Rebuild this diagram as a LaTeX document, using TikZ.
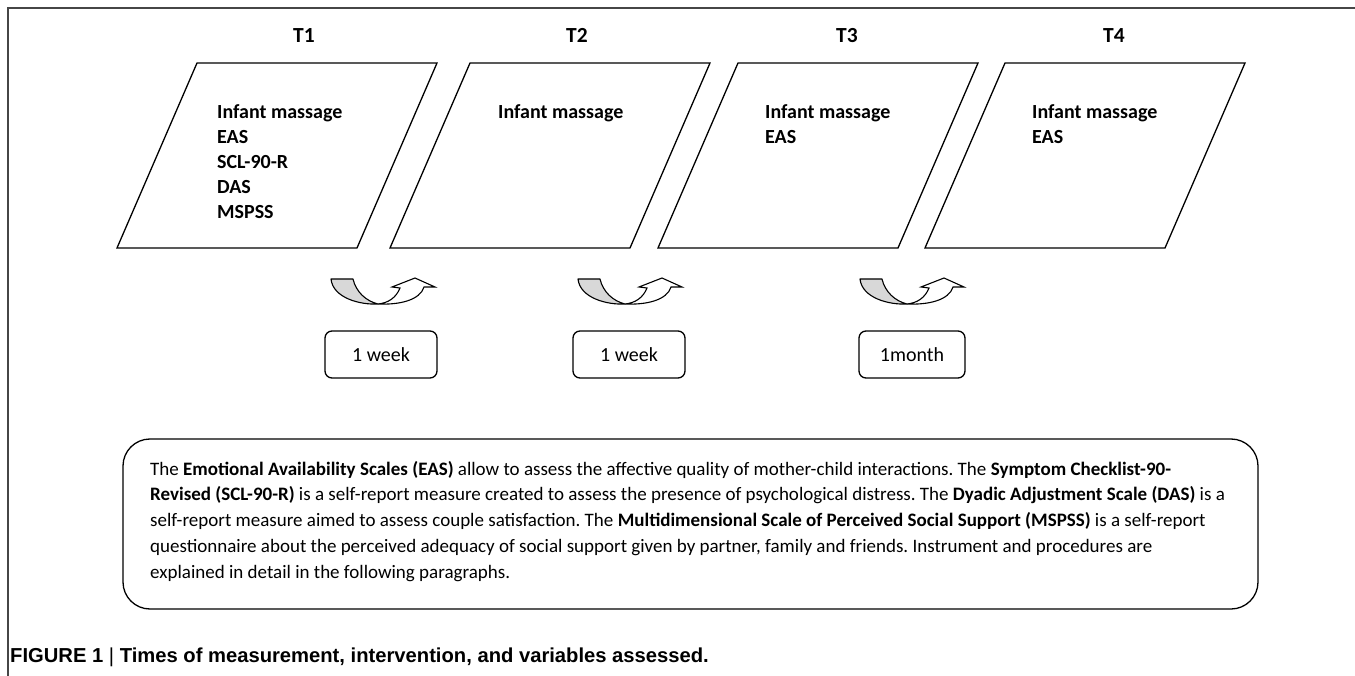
\documentclass[tikz,border=0pt]{standalone}
\usepackage{fontspec}
\setmainfont{Carlito}
\newfontfamily\capfont{Liberation Sans}
\definecolor{arrowgrey}{RGB}{216,216,216}
\definecolor{framegrey}{RGB}{70,70,70}
\frenchspacing
\begin{document}
\begin{tikzpicture}[x=1pt,y=-1pt,
  para/.style={draw=black,line width=1.3pt,line join=miter},
  tlabel/.style={font=\bfseries\fontsize{21.5}{25}\selectfont,inner sep=0pt,anchor=base},
  item/.style={font=\bfseries\fontsize{20}{25}\selectfont,inner sep=0pt,anchor=base west},
  durbox/.style={draw=black,line width=1.3pt,rounded corners=7pt,minimum height=47pt,inner sep=0pt,font=\fontsize{20}{24}\selectfont},
  body/.style={font=\fontsize{19}{22}\selectfont,inner sep=0pt,anchor=base west},
  uturn/.pic={
    \filldraw[fill=arrowgrey,draw=black,line width=1.1pt,line join=round]
      (0,0) -- (22,0) .. controls (25,13) and (35,22) .. (47,25)
      .. controls (29,26) and (2,19) .. cycle;
    \filldraw[fill=white,draw=black,line width=1.1pt,line join=miter]
      (47,25) .. controls (69,26) and (89,21) .. (93,8) -- (104,8) -- (84,-1)
      -- (61,8) -- (69,9) .. controls (65,19) and (57,24) .. (47,25) -- cycle;
  }]
\useasboundingbox (0,0) rectangle (1355,676);
\fill[white] (0,0) rectangle (1355,676);
% frame
\draw[framegrey,line width=1.2pt] (8,676) -- (8,8) -- (1355,8);

% parallelograms
\foreach \bx in {117,390,658,925}{
  \draw[para] (\bx,248) -- ({\bx+240},248) -- ({\bx+320},63) -- ({\bx+80},63) -- cycle;
}

% time labels
\node[tlabel] (t1) at (304,43) {T1};
\node[tlabel] (t2) at (577,43) {T2};
\node[tlabel] (t3) at (847,43) {T3};
\node[tlabel] (t4) at (1114,43) {T4};

% contents
\node[item] (a1) at (217,119) {Infant massage};
\node[item] (a2) at (217,144) {EAS};
\node[item] (a3) at (217,169) {SCL-90-R};
\node[item] (a4) at (217,194) {DAS};
\node[item] (a5) at (217,219) {MSPSS};
\node[item] (b1) at (498,119) {Infant massage};
\node[item] (c1) at (765,119) {Infant massage};
\node[item] (c2) at (765,144) {EAS};
\node[item] (e1) at (1032,119) {Infant massage};
\node[item] (e2) at (1032,144) {EAS};

% u-turn arrows
\pic at (331,279) {uturn};
\pic at (578,279) {uturn};
\pic at (860,279) {uturn};

% duration boxes
\node[durbox,minimum width=112pt] (d1) at (381,354.5) {1 week};
\node[durbox,minimum width=112pt] (d2) at (629,354.5) {1 week};
\node[durbox,minimum width=106pt] (d3) at (912,354.5) {1month};

% explanatory box
\node[draw=black,line width=1.3pt,rounded corners=27pt,minimum width=1135pt,minimum height=170pt,inner sep=0pt] (note) at (690.5,524) {};
\node[body] (l1) at (150,475) {The \textbf{Emotional Availability Scales (EAS)} allow to assess the affective quality of mother-child interactions. The \textbf{Symptom Checklist-90-}};
\node[body] (l2) at (150,500.8) {\textbf{Revised (SCL-90-R)} is a self-report measure created to assess the presence of psychological distress. The \textbf{Dyadic Adjustment Scale (DAS)} is a};
\node[body] (l3) at (150,526.6) {self-report measure aimed to assess couple satisfaction. The \textbf{Multidimensional Scale of Perceived Social Support (MSPSS)} is a self-report};
\node[body] (l4) at (150,552.4) {questionnaire about the perceived adequacy of social support given by partner, family and friends. Instrument and procedures are};
\node[body] (l5) at (150,578.2) {explained in detail in the following paragraphs.};

% caption
\node[font=\capfont\bfseries\fontsize{20.2}{24}\selectfont,inner sep=0pt,anchor=base west] (cap) at (10,662)
  {FIGURE 1 {\mdseries|} Times of measurement, intervention, and variables assessed.};
\end{tikzpicture}
\end{document}
